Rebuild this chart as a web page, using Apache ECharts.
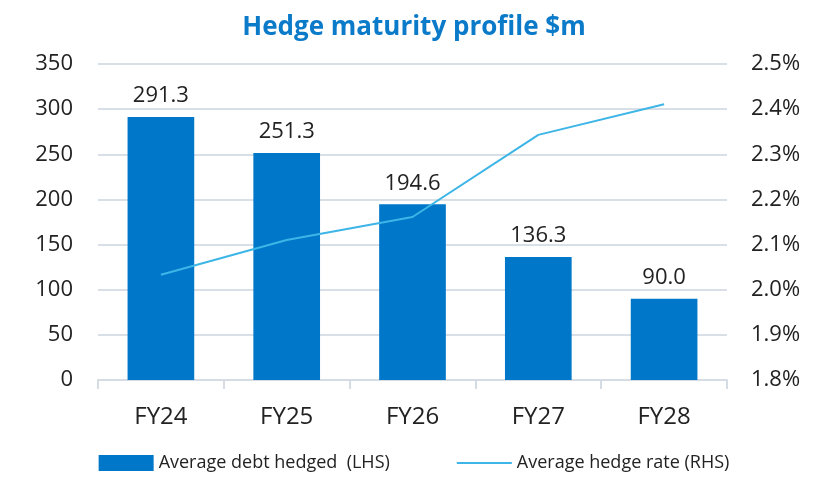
<html>
    <head>
        <meta charset="utf-8">
        <script src="https://cdn.jsdelivr.net/npm/echarts@6/dist/echarts.min.js"></script>
    </head>
    <body>
        <style>
            html, body, #main {
                width: 100%;
                height: 100%;
                margin: 0;
                background: #fff;
            }
        </style>
        <div id='main'></div>
        <script>
        var years = ['FY24', 'FY25', 'FY26', 'FY27', 'FY28'];
        var debtHedged = [291.3, 251.3, 194.6, 136.3, 90.0];
        var hedgeRate = [2.033, 2.110, 2.161, 2.343, 2.411];
        var leftTicks = [0, 350, 50];
        var rightTicks = [1.8, 2.5, 0.1];

        var font = 'Open Sans';
        var chart = echarts.init(document.getElementById('main'));
        var option = {
            title: {
                text: 'Hedge maturity profile $m',
                left: 'center',
                top: 10,
                textStyle: { color: '#0A7AC9', fontSize: 26, fontWeight: 'bold', fontFamily: font }
            },
            legend: {
                bottom: 0,
                left: 'center',
                itemGap: 66,
                textStyle: { fontSize: 18, color: '#222', fontFamily: font },
                data: [
                    { name: 'Average debt hedged  (LHS)', icon: 'rect', itemStyle: { color: '#0077C8' } },
                    { name: 'Average hedge rate (RHS)', itemStyle: { opacity: 0 } }
                ],
                itemWidth: 55,
                itemHeight: 16
            },
            grid: { left: 98, right: 101, top: 64, bottom: 97 },
            xAxis: {
                type: 'category',
                data: years,
                axisLine: { lineStyle: { color: '#D5DCE4', width: 2 } },
                axisTick: { show: true, length: 9, lineStyle: { color: '#D5DCE4', width: 2 } },
                axisLabel: { fontSize: 24, color: '#222', margin: 25, fontFamily: font }
            },
            yAxis: [{
                type: 'value',
                min: leftTicks[0], max: leftTicks[1], interval: leftTicks[2],
                axisLine: { show: false },
                axisTick: { show: false },
                splitLine: { lineStyle: { color: '#D9DFE7', width: 2 } },
                axisLabel: { fontSize: 22, color: '#222', margin: 25, fontFamily: font }
            }, {
                type: 'value',
                min: rightTicks[0], max: rightTicks[1], interval: rightTicks[2],
                axisLine: { show: false },
                axisTick: { show: false },
                splitLine: { show: false },
                axisLabel: {
                    fontSize: 22, color: '#222', margin: 24, fontFamily: font,
                    formatter: function (v) { return v.toFixed(1) + '%'; }
                }
            }],
            series: [{
                name: 'Average debt hedged  (LHS)',
                type: 'bar',
                data: debtHedged,
                barWidth: '53%',
                itemStyle: { color: '#0077C8' },
                label: {
                    show: true, position: 'top', distance: 10,
                    fontSize: 22, color: '#222', fontFamily: font,
                    formatter: function (p) { return p.value.toFixed(1); }
                },
                z: 2
            }, {
                name: 'Average hedge rate (RHS)',
                type: 'line',
                yAxisIndex: 1,
                data: hedgeRate,
                symbol: 'none',
                lineStyle: { color: '#3DB5E6', width: 2 },
                itemStyle: { color: '#3DB5E6' },
                z: 3
            }],
            animation: false
        };
        chart.setOption(option);
        window.onresize = chart.resize;
        </script>
    </body>
</html>
